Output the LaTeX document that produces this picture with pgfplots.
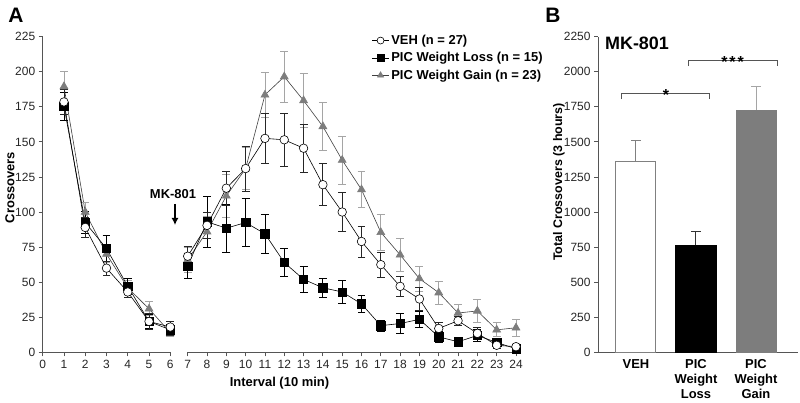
\documentclass[border=0pt]{standalone}
\usepackage{fontspec}
\setmainfont{Liberation Sans}
\usepackage{pgfplots}
\usepackage{pgfplotstable}
\pgfplotsset{compat=1.18}
\usetikzlibrary{arrows.meta}
\definecolor{wg}{RGB}{125,125,125}
\definecolor{wgerr}{RGB}{165,165,165}
\definecolor{axc}{RGB}{85,85,85}

\pgfplotstableread{
x veh vehe wl wle wg wge
1 178.5 9 175.5 10 189.5 11
2 89 7 92.5 8 100 7
3 60 5 74 9 70 6
4 43 4 47 6 46 5
5 22 6 22 5 31 5
6 18 4 16 4 14 3
}\leftdata
\pgfplotstableread{
x veh vehe wl wle wg wge
7 68.5 7 61.5 9 66 9
8 90.5 9 93 18 86 11
9 117 12 88.5 17 111.5 15
10 131 16 92.5 17 131 15
11 152.5 18 84.5 14 183.5 16
12 151.5 19 64 10 196.5 18
13 145.5 17 52 9 179.5 19
14 119.5 15 46 7 161 17
15 100 14 43 8 137 17
16 79 11 34.5 6 116 13
17 62.5 9 19 4 85.5 13
18 47 7 20.5 7 69.5 12
19 38 8 23.5 6 52.5 9
20 17 4 11 4 42.5 8
21 22.5 3 7.5 2 28 6
22 13.5 4 12 4 29.5 8
23 5 2 7 2 16 5
24 4 1 2.5 1 17.5 6
}\rightdata

\pgfplotsset{
  common/.style={
    scale only axis, anchor=south west, clip=false,
    /pgf/number format/assume math mode=true,
    /pgf/number format/1000 sep={},
    axis line style={axc, line width=0.8pt, -},
    tick style={axc, line width=0.8pt},
    major tick length=4bp, tick align=outside,
    ticklabel style={font=\fontsize{12}{14}\selectfont, text=black!85},
  },
  vehs/.style={black, line width=0.6pt, mark=*, mark size=4.3pt,
    mark options={fill=white, draw=black, line width=0.6pt},
    error bars/y dir=both, error bars/y explicit,
    error bars/error bar style={black!85, line width=0.8pt},
    error bars/error mark options={rotate=90, mark size=4pt, black!85, line width=0.8pt}},
  wls/.style={black, line width=0.6pt, mark=square*, mark size=4.2pt,
    mark options={fill=black, draw=black},
    error bars/y dir=both, error bars/y explicit,
    error bars/error bar style={black, line width=0.8pt},
    error bars/error mark options={rotate=90, mark size=4pt, black, line width=0.8pt}},
  wgs/.style={black!75, line width=0.6pt, mark=triangle*, mark size=4.6pt,
    mark options={fill=wg, draw=wg},
    error bars/y dir=both, error bars/y explicit,
    error bars/error bar style={wgerr, line width=0.8pt},
    error bars/error mark options={rotate=90, mark size=4pt, wgerr, line width=0.8pt}},
}

\begin{document}
\begin{tikzpicture}
\useasboundingbox (0,0) rectangle (800bp,403bp);

% Panel A, left part
\begin{axis}[common,
  at={(42.7bp,50.7bp)}, width=127.6bp, height=315.6bp,
  xmin=0, xmax=6, ymin=0, ymax=225,
  axis x line*=bottom, axis y line*=left,
  xtick={0,...,6}, ytick={0,25,...,225}]
\addplot[wgs] table[x=x, y=wg, y error=wge] {\leftdata};
\addplot[wls] table[x=x, y=wl, y error=wle] {\leftdata};
\addplot[vehs] table[x=x, y=veh, y error=vehe] {\leftdata};
\end{axis}

% Panel A, right part
\begin{axis}[common,
  at={(187.7bp,50.7bp)}, width=328.3bp, height=315.6bp,
  xmin=7, xmax=24, ymin=0, ymax=225,
  axis x line*=bottom, axis y line=none,
  xtick={7,...,24},
  legend style={at={(axis description cs:0.56,1.012)}, anchor=north west,
    draw=none, fill=none, font=\fontsize{13}{15}\selectfont\bfseries,
    row sep=2.5bp, inner sep=0pt},
  legend cell align=left]
\addplot[forget plot, wgs] table[x=x, y=wg, y error=wge] {\rightdata};
\addplot[forget plot, wls] table[x=x, y=wl, y error=wle] {\rightdata};
\addplot[forget plot, vehs] table[x=x, y=veh, y error=vehe] {\rightdata};
\addlegendimage{black, line width=0.6pt, mark=*, mark size=3.5pt, mark options={fill=white, draw=black}}
\addlegendentry{VEH (n = 27)}
\addlegendimage{black, line width=0.6pt, mark=square*, mark size=3.3pt, mark options={fill=black}}
\addlegendentry{PIC Weight Loss (n = 15)}
\addlegendimage{black!75, line width=0.6pt, mark=triangle*, mark size=3.5pt, mark options={fill=wg, draw=wg}}
\addlegendentry{PIC Weight Gain (n = 23)}
\end{axis}

% Panel B
\begin{axis}[common,
  at={(598bp,50.7bp)}, width=200bp, height=315.6bp,
  xmin=-0.633, xmax=2.7, ymin=0, ymax=2250,
  axis x line*=bottom, axis y line*=left,
  ytick={0,250,...,2250},
  xtick={0,1,2},
  xticklabels={VEH,{PIC\\Weight\\Loss},{PIC\\Weight\\Gain}},
  xticklabel style={align=center, font=\fontsize{13}{15}\selectfont\bfseries, text=black},
  x tick style={draw=none}]
\addplot[ybar, bar width=40bp, bar shift=0pt, fill=white, draw=gray, line width=1pt,
  error bars/y dir=plus, error bars/y explicit,
  error bars/error bar style={gray, line width=1pt},
  error bars/error mark options={rotate=90, mark size=5pt, gray, line width=1pt}]
  coordinates {(0,1362) +- (0,145)};
\addplot[ybar, bar width=40bp, bar shift=0pt, fill=black, draw=black, line width=1pt,
  error bars/y dir=plus, error bars/y explicit,
  error bars/error bar style={black!80, line width=1pt},
  error bars/error mark options={rotate=90, mark size=5pt, black!80, line width=1pt}]
  coordinates {(1,762) +- (0,102)};
\addplot[ybar, bar width=40bp, bar shift=0pt, fill=wg, draw=wg, line width=1pt,
  error bars/y dir=plus, error bars/y explicit,
  error bars/error bar style={wgerr, line width=1pt},
  error bars/error mark options={rotate=90, mark size=5pt, wgerr, line width=1pt}]
  coordinates {(2,1726) +- (0,169)};
\draw[axc, line width=1pt] (axis cs:-0.24,1805) -- (axis cs:-0.24,1845) -- (axis cs:1.23,1845) -- (axis cs:1.23,1805);
\draw[axc, line width=1pt] (axis cs:0.87,2040) -- (axis cs:0.87,2079) -- (axis cs:2.35,2079) -- (axis cs:2.35,2040);
\node[anchor=base, font=\fontsize{16}{16}\selectfont\bfseries, yshift=-7bp] at (axis cs:0.5,1845) {*};
\node[anchor=base, font=\fontsize{16}{16}\selectfont\bfseries, yshift=-7bp] at (axis cs:1.61,2079) {*\hspace{2bp}*\hspace{2bp}*};
\end{axis}

% Texts
\node[font=\fontsize{21}{21}\selectfont\bfseries] at (16bp,388bp) {A};
\node[font=\fontsize{21}{21}\selectfont\bfseries] at (553bp,388bp) {B};
\node[font=\fontsize{18}{18}\selectfont\bfseries] at (637bp,359.7bp) {MK-801};
\node[font=\fontsize{13}{15}\selectfont\bfseries, rotate=90] at (10bp,215.5bp) {Crossovers};
\node[font=\fontsize{13}{15}\selectfont\bfseries] at (279.5bp,19.7bp) {Interval (10 min)};
\node[font=\fontsize{12.5}{15}\selectfont\bfseries, rotate=90] at (559bp,221bp) {Total Crossovers (3 hours)};
\node[font=\fontsize{13}{15}\selectfont\bfseries] at (173bp,209bp) {MK-801};
\draw[black, line width=1.3pt, -{Latex[length=7bp,width=7bp]}] (175bp,199bp) -- (175bp,178bp);
\end{tikzpicture}
\end{document}
